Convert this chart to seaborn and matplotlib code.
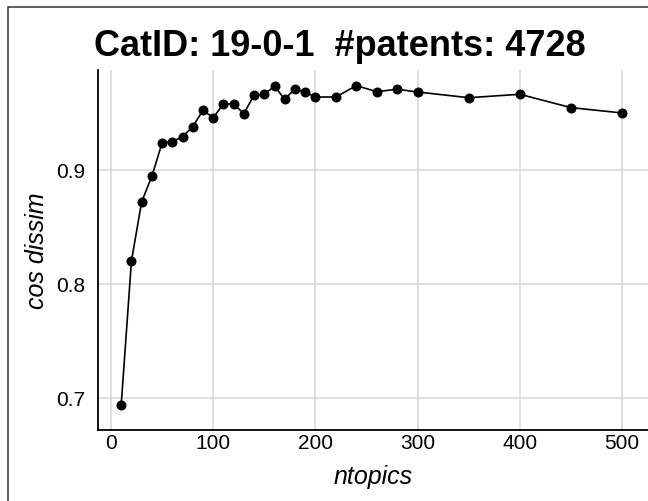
import matplotlib
matplotlib.use("Agg")
import matplotlib.pyplot as plt
from matplotlib.patches import Rectangle
import seaborn as sns
import pandas as pd

ntopics = [10, 20, 30, 40, 50, 60, 70, 80, 90, 100, 110, 120, 130, 140, 150,
           160, 170, 180, 190, 200, 220, 240, 260, 280, 300, 350, 400, 450, 500]
cos_dissim = [0.694, 0.820, 0.872, 0.8945, 0.9237, 0.9248, 0.9292, 0.938, 0.9524,
              0.9459, 0.9579, 0.9579, 0.9494, 0.9658, 0.9664, 0.9734, 0.962,
              0.9713, 0.9681, 0.964, 0.964, 0.974, 0.9687, 0.9708, 0.9684,
              0.9634, 0.9664, 0.9547, 0.950]
x_ticks = [0, 100, 200, 300, 400, 500]
y_ticks = [0.7, 0.8, 0.9]
title = "CatID: 19-0-1  #patents: 4728"

sns.set_theme(style="whitegrid")
plt.rcParams["font.family"] = ["Liberation Sans", "DejaVu Sans"]
plt.rcParams["text.color"] = "black"

df = pd.DataFrame({"ntopics": ntopics, "cos dissim": cos_dissim})

W, H = 648, 502
fig = plt.figure(figsize=(W / 100, H / 100), dpi=100)
ax = fig.add_axes([98 / W, 1 - 431 / H, (W - 98) / W, (431 - 71) / H])

sns.lineplot(data=df, x="ntopics", y="cos dissim", ax=ax, color="black",
             linewidth=1.2, marker="o", markersize=7.2, markeredgewidth=0,
             markerfacecolor="black")

ax.set_xlim(-12.7, 525.4)
ax.set_ylim(0.6719, 0.9877)
ax.set_xticks(x_ticks)
ax.set_yticks(y_ticks)
ax.set_xticklabels([str(t) for t in x_ticks])
ax.set_yticklabels([f"{t:.1f}" for t in y_ticks])
ax.grid(True, color="#d6d6d6", linewidth=1.1)
ax.set_axisbelow(True)
for side in ["top", "right"]:
    ax.spines[side].set_visible(False)
for side in ["left", "bottom"]:
    ax.spines[side].set_visible(True)
    ax.spines[side].set_color("black")
    ax.spines[side].set_linewidth(1.3)
ax.tick_params(axis="both", length=0, labelsize=15, labelcolor="black")
ax.tick_params(axis="x", pad=2)
ax.tick_params(axis="y", pad=9)
ax.set_xlabel("")
ax.set_ylabel("")

fig.text(340 / W, 1 - 56 / H, title, ha="center", va="baseline",
         fontsize=26, fontweight="bold", color="black")
fig.text(373 / W, 1 - 484 / H, "ntopics", ha="center", va="baseline",
         fontsize=18, style="italic", color="black")
fig.text(37 / W, 1 - 251 / H, "cos dissim", ha="center", va="center",
         rotation=90, fontsize=18, style="italic", color="black")

fig.add_artist(Rectangle((7.5 / W, -0.1), 1.2, 1 - 8 / H + 0.1,
                         transform=fig.transFigure, fill=False,
                         edgecolor="#333333", linewidth=1.1))

fig.savefig("out.png", dpi=100)
